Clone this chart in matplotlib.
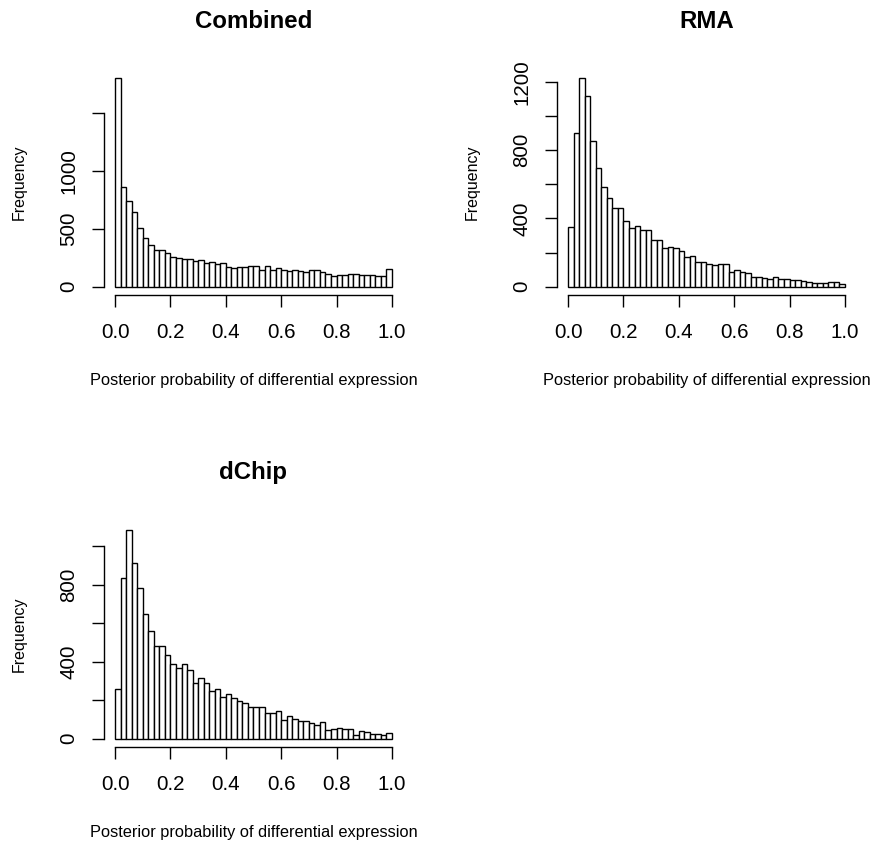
import numpy as np
import matplotlib
matplotlib.use('Agg')
import matplotlib.pyplot as plt

plt.rcParams['font.family'] = ['Liberation Sans', 'DejaVu Sans']

# 50 bins of width 0.02 on [0, 1]
bin_edges = np.linspace(0, 1, 51)

combined_counts = [1803, 864, 743, 645, 512, 425, 364, 315, 315, 292,
                   257, 246, 240, 237, 223, 234, 208, 214, 199, 205,
                   171, 165, 171, 171, 179, 182, 142, 179, 147, 165,
                   147, 136, 142, 133, 124, 147, 142, 124, 113, 92,
                   104, 104, 107, 107, 101, 101, 101, 90, 92, 153]

rma_counts = [350, 902, 1221, 1117, 855, 693, 585, 521, 460, 460,
              385, 346, 358, 331, 331, 276, 276, 225, 231, 227,
              207, 174, 182, 143, 145, 135, 125, 133, 133, 86,
              100, 88, 78, 57, 57, 53, 45, 59, 45, 45,
              39, 37, 33, 25, 23, 23, 23, 27, 27, 18]

dchip_counts = [259, 835, 1083, 911, 781, 647, 560, 480, 483, 437,
                386, 367, 386, 355, 290, 313, 290, 250, 256, 217,
                233, 214, 197, 186, 165, 165, 165, 136, 136, 144,
                99, 117, 103, 94, 94, 82, 73, 89, 45, 52,
                56, 50, 50, 21, 38, 33, 26, 26, 17, 30]

panel_titles = ['Combined', 'RMA', 'dChip']
x_ticks = [0.0, 0.2, 0.4, 0.6, 0.8, 1.0]
combined_yticks = [0, 500, 1000, 1500]
combined_ylabels = ['0', '500', '1000', '']
rma_yticks = [0, 200, 400, 600, 800, 1000, 1200]
rma_ylabels = ['0', '', '400', '', '800', '', '1200']
dchip_yticks = [0, 200, 400, 600, 800, 1000]
dchip_ylabels = ['0', '', '400', '', '800', '']

W, H = 875, 848
fig = plt.figure(figsize=(W / 100, H / 100), dpi=100)


def draw_panel(left, top, counts, title, yticks, ylabels):
    # left/top in pixels from the top-left corner of the image
    pw, ph = 299, 225
    ax = fig.add_axes([left / W, (H - top - ph) / H, pw / W, ph / H])
    ymax = max(counts)
    ax.bar(bin_edges[:-1], counts, width=0.02, align='edge',
           facecolor='white', edgecolor='black', linewidth=1.0)
    ax.set_xlim(-0.04, 1.04)
    ax.set_ylim(-0.04 * ymax, 1.04 * ymax)
    for s in ['top', 'right']:
        ax.spines[s].set_visible(False)
    ax.spines['left'].set_bounds(yticks[0], yticks[-1])
    ax.spines['bottom'].set_bounds(0, 1)
    ax.spines['left'].set_linewidth(1.0)
    ax.spines['bottom'].set_linewidth(1.0)
    ax.set_xticks(x_ticks)
    ax.set_xticklabels(['%.1f' % t for t in x_ticks])
    ax.set_yticks(yticks)
    ax.set_yticklabels(ylabels)
    ax.tick_params(axis='both', length=8.5, width=1.0, labelsize=14.8)
    ax.tick_params(axis='x', pad=11.5)
    ax.tick_params(axis='y', pad=10)
    plt.setp(ax.get_yticklabels(), rotation=90, va='center')

    cx = (left + pw / 2) / W
    fig.text(cx, (H - (top - 49)) / H, title, ha='center', va='center',
             fontsize=17.3, fontweight='bold')
    fig.text(cx, (H - (top + 311)) / H,
             'Posterior probability of differential expression',
             ha='center', va='center', fontsize=11.8)
    fig.text((left - 85) / W, (H - (top + ph / 2)) / H, 'Frequency',
             ha='center', va='center', rotation=90, fontsize=11.5)
    return ax


draw_panel(104, 70, combined_counts, panel_titles[0], combined_yticks, combined_ylabels)
draw_panel(557, 70, rma_counts, panel_titles[1], rma_yticks, rma_ylabels)
draw_panel(104, 522, dchip_counts, panel_titles[2], dchip_yticks, dchip_ylabels)

plt.savefig('out.png', dpi=100)
